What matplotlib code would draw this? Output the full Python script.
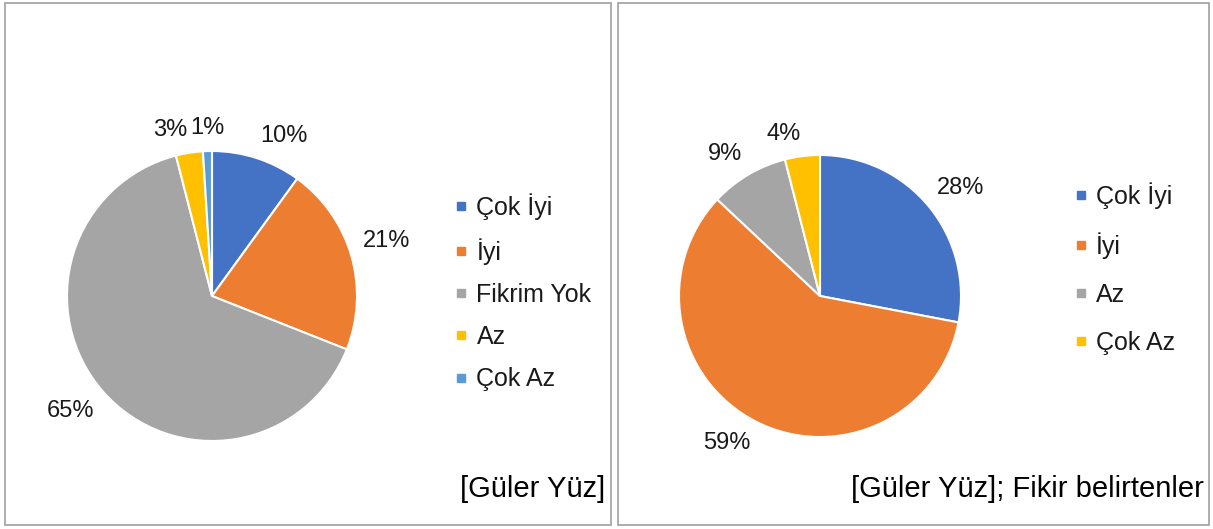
import numpy as np
import matplotlib
matplotlib.use('Agg')
import matplotlib.pyplot as plt
from matplotlib.patches import Rectangle
from matplotlib.lines import Line2D

plt.rcParams['font.family'] = ['Liberation Sans', 'DejaVu Sans']

# Sol grafik: tüm cevaplar
sol_etiket = ['Çok İyi', 'İyi', 'Fikrim Yok', 'Az', 'Çok Az']
sol_deger = [10, 21, 65, 3, 1]
sol_renk = ['#4472C4', '#ED7D31', '#A5A5A5', '#FFC000', '#5B9BD5']
sol_baslik = '[Güler Yüz]'

# Sağ grafik: fikir belirtenler
sag_etiket = ['Çok İyi', 'İyi', 'Az', 'Çok Az']
sag_deger = [28, 59, 9, 4]
sag_renk = ['#4472C4', '#ED7D31', '#A5A5A5', '#FFC000']
sag_baslik = '[Güler Yüz]; Fikir belirtenler'

W, H = 1213, 529
fig = plt.figure(figsize=(W / 100, H / 100), dpi=100)


def cerceve(x0, y0, x1, y1):
    # piksel koordinatlarından (üstten) çerçeve
    fig.patches.append(Rectangle((x0 / W, 1 - y1 / H), (x1 - x0) / W, (y1 - y0) / H,
                                 transform=fig.transFigure, fill=False,
                                 edgecolor='#A0A0A0', linewidth=1.2))


def pasta(cx, cy, r, degerler, renkler):
    lim = 1.4
    s = 2 * r * lim
    ax = fig.add_axes([(cx - s / 2) / W, 1 - (cy + s / 2) / H, s / W, s / H])
    wedges, _ = ax.pie(degerler, colors=renkler, startangle=90, counterclock=False,
                       radius=1, wedgeprops=dict(edgecolor='white', linewidth=1.5))
    for w, v in zip(wedges, degerler):
        a = np.deg2rad((w.theta1 + w.theta2) / 2)
        c, s_ = np.cos(a), np.sin(a)
        ha = 'center' if abs(c) < 0.1 else ('left' if c > 0 else 'right')
        va = 'bottom' if s_ > 0 else 'top'
        ax.text(1.08 * c, 1.08 * s_, f'{v}%', ha=ha, va=va, fontsize=17, color='#1a1a1a')
    ax.set_xlim(-lim, lim)
    ax.set_ylim(-lim, lim)
    ax.set_aspect('equal')
    ax.axis('off')
    return ax


def lejant(etiketler, renkler, x, y, aralik):
    el = [Line2D([], [], marker='s', linestyle='none', markersize=5.5,
                 markerfacecolor=r, markeredgecolor=r) for r in renkler]
    fig.legend(el, etiketler, loc='upper left', bbox_to_anchor=(x / W, 1 - y / H),
               frameon=False, fontsize=18, handlelength=0.6, handletextpad=0.3,
               labelspacing=aralik, borderpad=0, borderaxespad=0, labelcolor='#1a1a1a')


cerceve(5, 3, 611, 525)
cerceve(618, 3, 1209, 525)

pasta(212, 296, 145, sol_deger, sol_renk)
pasta(820, 296, 141, sag_deger, sag_renk)

lejant(sol_etiket, sol_renk, 454, 193, 0.73)
lejant(sag_etiket, sag_renk, 1073, 182, 0.95)

fig.text(605 / W, 1 - 497 / H, sol_baslik, ha='right', va='baseline', fontsize=21, color='black')
fig.text(1204 / W, 1 - 497 / H, sag_baslik, ha='right', va='baseline', fontsize=21, color='black')

fig.savefig('out.png', dpi=100, facecolor='white')
